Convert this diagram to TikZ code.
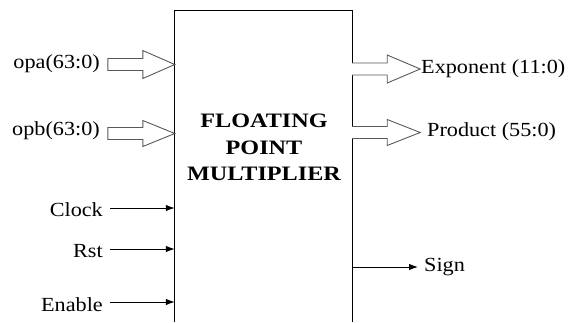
\documentclass[tikz,border=0pt]{standalone}
\usepackage{fontspec}
\setmainfont{Liberation Serif}
\usetikzlibrary{arrows.meta}
\newcommand{\widetxt}[1]{\scalebox{1.11}[1]{#1}}
\newcommand{\widebold}[1]{\scalebox{1.18}[1]{#1}}
\tikzset{
  lbl/.style={font=\fontsize{20}{24}\selectfont, inner sep=0pt},
  sig/.style={line width=1pt, -{Latex[length=9pt,width=6.5pt]}},
  bus/.style={draw=black!65, line width=0.9pt, fill=white},
}
\begin{document}
\begin{tikzpicture}[x=1pt,y=-1pt]
\useasboundingbox (0,0) rectangle (571,322);
% main block
\node[minimum width=177pt, minimum height=311pt, inner sep=0pt] (fpm) at (263.5,166.5) {};
\draw[line width=1pt] (fpm.south west) -- (fpm.north west) -- (fpm.north east) -- (fpm.south east);
\node[align=center, inner sep=0pt, font=\fontsize{20.5}{26.5}\selectfont\bfseries] (title) at (264,147.5) {\widebold{FLOATING}\\\widebold{POINT}\\\widebold{MULTIPLIER}};
% input labels
\node[lbl, anchor=east] (opa) at (100,64) {\widetxt{opa(63:0)}};
\node[lbl, anchor=east] (opb) at (100,131) {\widetxt{opb(63:0)}};
\node[lbl, anchor=east] (clk) at (103,210) {\widetxt{Clock}};
\node[lbl, anchor=east] (rst) at (103,251) {\widetxt{Rst}};
\node[lbl, anchor=east] (en) at (103,305) {\widetxt{Enable}};
% output labels
\node[lbl, anchor=west] (exp) at (421,69) {\widetxt{Exponent (11:0)}};
\node[lbl, anchor=west] (prod) at (427,132) {\widetxt{Product (55:0)}};
\node[lbl, anchor=west] (sign) at (424,267) {\widetxt{Sign}};
% bus arrows (inputs)
\coordinate (ta) at (fpm.west |- 0,64.5);
\draw[bus] ([xshift=-67pt,yshift=-6pt]ta) -- ([xshift=-32pt,yshift=-6pt]ta) -- ([xshift=-32pt,yshift=-14pt]ta) -- (ta) -- ([xshift=-32pt,yshift=14pt]ta) -- ([xshift=-32pt,yshift=6pt]ta) -- ([xshift=-67pt,yshift=6pt]ta) -- cycle;
\coordinate (tb) at (fpm.west |- 0,133.5);
\draw[bus] ([xshift=-67pt,yshift=-6pt]tb) -- ([xshift=-32pt,yshift=-6pt]tb) -- ([xshift=-32pt,yshift=-13pt]tb) -- (tb) -- ([xshift=-32pt,yshift=13pt]tb) -- ([xshift=-32pt,yshift=6pt]tb) -- ([xshift=-67pt,yshift=6pt]tb) -- cycle;
% bus arrows (outputs)
\coordinate (sa) at (fpm.east |- 0,69);
\draw[bus] ([yshift=-6pt]sa) -- ([xshift=35pt,yshift=-6pt]sa) -- ([xshift=35pt,yshift=-14pt]sa) -- ([xshift=68pt]sa) -- ([xshift=35pt,yshift=14pt]sa) -- ([xshift=35pt,yshift=6pt]sa) -- ([yshift=6pt]sa);
\coordinate (sb) at (fpm.east |- 0,132.5);
\draw[bus] ([yshift=-6pt]sb) -- ([xshift=35pt,yshift=-6pt]sb) -- ([xshift=35pt,yshift=-13pt]sb) -- ([xshift=68pt]sb) -- ([xshift=35pt,yshift=13pt]sb) -- ([xshift=35pt,yshift=6pt]sb) -- ([yshift=6pt]sb);
% single signals
\draw[sig] ([xshift=7pt,yshift=2pt]clk.east) -- ([yshift=2pt]clk.east -| fpm.west);
\draw[sig] ([xshift=7pt,yshift=2pt]rst.east) -- ([yshift=2pt]rst.east -| fpm.west);
\draw[sig] ([xshift=7pt,yshift=3pt]en.east) -- ([yshift=3pt]en.east -| fpm.west);
\draw[sig] (fpm.east |- sign.west) -- ([xshift=-6pt]sign.west);
\end{tikzpicture}
\end{document}
